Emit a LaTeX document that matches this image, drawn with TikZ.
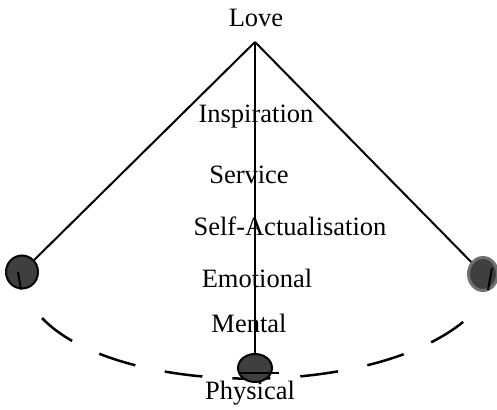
\documentclass[tikz,border=0pt]{standalone}
\usepackage{fontspec}
\setmainfont{Liberation Serif}
\usetikzlibrary{shapes.geometric,calc}
\tikzset{
  lbl/.style={font=\fontsize{26.5}{30}\selectfont, inner sep=0pt, anchor=center},
  bob/.style={ellipse, draw=black, line width=2pt, fill=bobgray, inner sep=0pt},
  rope/.style={line width=2pt, draw=black},
  swing/.style={line width=2.5pt, dash pattern=on 38pt off 30pt}
}
\definecolor{bobgray}{HTML}{3F3F3F}
\definecolor{rimgray}{HTML}{707070}
\begin{document}
\begin{tikzpicture}[x=1pt,y=-1pt]
\useasboundingbox (0,0) rectangle (497,409);
\coordinate (apex) at (255,42);
\coordinate (arcL) at (42,318);
\coordinate (arcR) at (475,311);
% swing arc
\draw[swing] (arcL) .. controls (120,400) and (390,400) .. (arcR);
% bobs
\node[bob, minimum width=32pt, minimum height=33pt] (lb) at (22,272) {};
\node[bob, draw=rimgray, line width=3pt, minimum width=29pt, minimum height=33pt] (rb) at (483,274) {};
\node[bob, minimum width=34pt, minimum height=28pt] (mb) at (255,368) {};
% ropes
\draw[rope] (apex) -- (lb);
\draw[rope] (apex) -- (rb);
\draw[rope] (apex) -- (mb);
% inner marks
\draw[line width=2pt] ([xshift=-4pt]lb.center) -- ([xshift=-1pt]lb.south);
\draw[line width=2pt] ([xshift=9pt,yshift=6pt]rb.center) -- ([xshift=5pt,yshift=-16pt]rb.center);
\draw[line width=2pt] ([xshift=-16pt,yshift=-5pt]mb.center) -- ([xshift=24pt,yshift=-5pt]mb.center);
% labels
\node[lbl] (love) at (256,18) {Love};
\node[lbl] (insp) at (256,117) {Inspiration};
\node[lbl] (serv) at (249,175) {Service};
\node[lbl] (self) at (290,226) {Self-Actualisation};
\node[lbl] (emo) at (257,278) {Emotional};
\node[lbl] (ment) at (249,323) {Mental};
\node[lbl] (phys) at (250,393) {Physical};
\end{tikzpicture}
\end{document}
